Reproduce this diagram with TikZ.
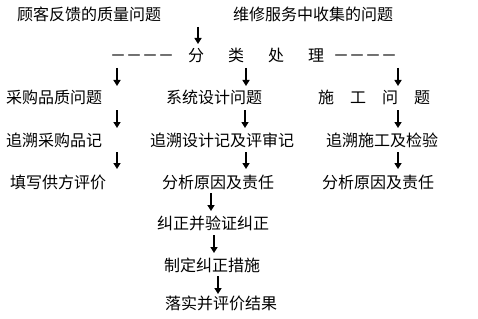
\documentclass[tikz,border=0pt]{standalone}
\usepackage{fontspec}
\setmainfont{Noto Sans CJK SC}
\usetikzlibrary{arrows.meta}
\begin{document}
\begin{tikzpicture}[x=1pt,y=-1pt,
  lbl/.style={anchor=base west,inner sep=0pt,font=\fontsize{16pt}{18pt}\selectfont},
  arr/.style={line width=2pt,-{Triangle[width=7pt,length=6pt]}}]
\useasboundingbox[fill=white] (0,0) rectangle (478,318);
% row 1
\node[lbl] (r1a) at (17,20.5) {顾客反馈的质量问题};
\node[lbl] (r1b) at (233,20.5) {维修服务中收集的问题};
% row 2
\node[lbl] (d1) at (110,62) {－－－－};
\node[lbl] (c1) at (188,62) {分};
\node[lbl] (c2) at (228,62) {类};
\node[lbl] (c3) at (268,62) {处};
\node[lbl] (c4) at (308,62) {理};
\node[lbl] (d2) at (333,62) {－－－－};
% row 3
\node[lbl] (r3a) at (6,103) {采购品质问题};
\node[lbl] (r3b) at (166,103) {系统设计问题};
\node[lbl] (s1) at (318,103) {施};
\node[lbl] (s2) at (350,103) {工};
\node[lbl] (s3) at (382,103) {问};
\node[lbl] (s4) at (414,103) {题};
% row 4
\node[lbl] (r4a) at (6,146) {追溯采购品记};
\node[lbl] (r4b) at (150,146) {追溯设计记及评审记};
\node[lbl] (r4c) at (326,146) {追溯施工及检验};
% row 5
\node[lbl] (r5a) at (10,188) {填写供方评价};
\node[lbl] (r5b) at (162,188) {分析原因及责任};
\node[lbl] (r5c) at (322,188) {分析原因及责任};
% rows 6-8
\node[lbl] (r6) at (157,229) {纠正并验证纠正};
\node[lbl] (r7) at (164,271) {制定纠正措施};
\node[lbl] (r8) at (165,309) {落实并评价结果};
% arrow end points
\coordinate (a0s) at (198,27);  \coordinate (a0e) at (198,44);
\coordinate (a1s) at (117,68);  \coordinate (a1e) at (117,86);
\coordinate (a2s) at (246,68);  \coordinate (a2e) at (246,86);
\coordinate (a3s) at (398,68);  \coordinate (a3e) at (398,86);
\coordinate (a4s) at (117,110); \coordinate (a4e) at (117,128);
\coordinate (a5s) at (245,110); \coordinate (a5e) at (245,128);
\coordinate (a6s) at (398,110); \coordinate (a6e) at (398,128);
\coordinate (a7s) at (117,152); \coordinate (a7e) at (117,169);
\coordinate (a8s) at (246,152); \coordinate (a8e) at (246,169);
\coordinate (a9s) at (398,152); \coordinate (a9e) at (398,169);
\coordinate (b1s) at (211,193); \coordinate (b1e) at (211,211);
\coordinate (b2s) at (214,235); \coordinate (b2e) at (214,253);
\coordinate (b3s) at (218,276); \coordinate (b3e) at (218,294);
\foreach \n in {a0,a1,a2,a3,a4,a5,a6,a7,a8,a9,b1,b2,b3}
  \draw[arr] (\n s) -- (\n e);
\end{tikzpicture}
\end{document}
